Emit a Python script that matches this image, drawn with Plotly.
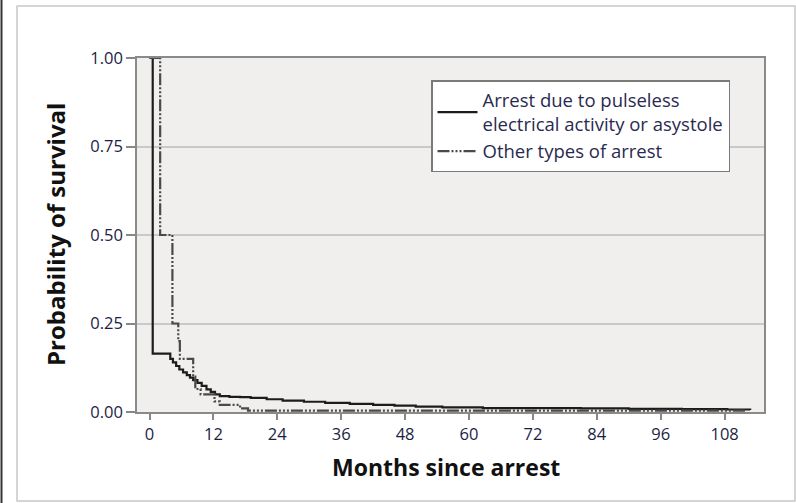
import plotly.graph_objects as go

# Kaplan-Meier step estimates (months since arrest, survival probability)
pea_months = [0, 0.6, 3.9, 4.4, 5.0, 5.6, 6.3, 7.0, 7.6, 8.2, 9.0, 9.8, 10.7, 11.5, 12.3,
              13.2, 15, 17, 19, 22, 25, 29, 33, 37.6, 42, 46, 50, 55, 62.6, 70, 81,
              90, 100, 108.5, 112.8]
pea_survival = [1.0, 0.165, 0.15, 0.14, 0.13, 0.12, 0.112, 0.104, 0.097, 0.09, 0.082,
                0.074, 0.064, 0.057, 0.05, 0.045, 0.043, 0.042, 0.04, 0.036, 0.032,
                0.029, 0.026, 0.023, 0.02, 0.018, 0.015, 0.013, 0.011, 0.011, 0.010,
                0.009, 0.008, 0.007, 0.006]

other_months = [0, 2.0, 4.3, 5.4, 5.7, 8.2, 8.6, 9.6, 12.2, 13.2, 17, 18.5, 112]
other_survival = [1.0, 0.5, 0.25, 0.2, 0.15, 0.1, 0.065, 0.05, 0.03, 0.02, 0.01, 0.004, 0.004]

x_ticks = [0, 12, 24, 36, 48, 60, 72, 84, 96, 108]
y_ticks = [0.0, 0.25, 0.5, 0.75, 1.0]
y_tick_text = ["0.00", "0.25", "0.50", "0.75", "1.00"]

series_names = ["Arrest due to pulseless<br>electrical activity or asystole",
                "Other types of arrest"]

FONT = "Open Sans, Lato, sans-serif"
TICK_COLOR = "#1e1e44"

fig = go.Figure()
fig.add_trace(go.Scatter(
    x=pea_months, y=pea_survival, mode="lines", line_shape="hv",
    name=series_names[0],
    line=dict(color="#1c1c1c", width=2.2),
))
fig.add_trace(go.Scatter(
    x=other_months, y=other_survival, mode="lines", line_shape="hv",
    name=series_names[1],
    line=dict(color="#4a4a4a", width=2.2, dash="12px,2px,2px,2px,2px,2px,2px,2px"),
))

L, R, T, B = 137, 32, 58, 91
W, H = 796, 503
pw, ph = W - L - R, H - T - B


def px_to_paper_x(px):
    return (px - L) / pw


def px_to_paper_y(py):
    return (H - B - py) / ph


fig.update_layout(
    width=W, height=H,
    margin=dict(l=L, r=R, t=T, b=B),
    paper_bgcolor="white",
    plot_bgcolor="#f0efed",
    font=dict(family=FONT, size=16, color=TICK_COLOR),
    showlegend=True,
    legend=dict(
        x=px_to_paper_x(431), y=px_to_paper_y(80), xanchor="left", yanchor="top",
        bgcolor="white", bordercolor="#7a7a7a", borderwidth=1.5,
        font=dict(family=FONT, size=18.5, color="#2a2a50"),
        tracegroupgap=0, itemwidth=40,
    ),
    xaxis=dict(
        range=[-2.35, 115.4], tickvals=x_ticks, ticks="outside", ticklen=6,
        tickcolor="#888", tickwidth=1.5, showgrid=False, zeroline=False,
        showline=True, linecolor="#8a8a8a", linewidth=1.5, mirror=True,
        tickfont=dict(family=FONT, size=16.5, color=TICK_COLOR),
    ),
    yaxis=dict(
        range=[0, 1.0], tickvals=y_ticks, ticktext=y_tick_text, ticks="outside",
        ticklen=9, tickcolor="#888", tickwidth=1.5, showgrid=True,
        gridcolor="#c9c9c9", gridwidth=1.5, zeroline=False,
        showline=True, linecolor="#8a8a8a", linewidth=1.5, mirror=True,
        tickfont=dict(family=FONT, size=16.5, color=TICK_COLOR),
    ),
    annotations=[
        dict(text="<b>Months since arrest</b>", xref="paper", yref="paper",
             x=px_to_paper_x(446), y=px_to_paper_y(467), showarrow=False,
             xanchor="center", yanchor="middle",
             font=dict(family=FONT, size=23, color="#111")),
        dict(text="<b>Probability of survival</b>", xref="paper", yref="paper",
             x=px_to_paper_x(55), y=px_to_paper_y(235), showarrow=False,
             textangle=-90, xanchor="center", yanchor="middle",
             font=dict(family=FONT, size=24, color="#111")),
    ],
    shapes=[
        # outer frame
        dict(type="rect", xref="paper", yref="paper",
             x0=px_to_paper_x(17), x1=px_to_paper_x(795),
             y0=px_to_paper_y(501), y1=px_to_paper_y(6),
             line=dict(color="#c8c8c8", width=1.5), layer="below"),
        dict(type="line", xref="paper", yref="paper",
             x0=px_to_paper_x(1.5), x1=px_to_paper_x(1.5),
             y0=px_to_paper_y(503), y1=px_to_paper_y(0),
             line=dict(color="#333", width=2)),
    ],
)

fig.write_html("out.html")
